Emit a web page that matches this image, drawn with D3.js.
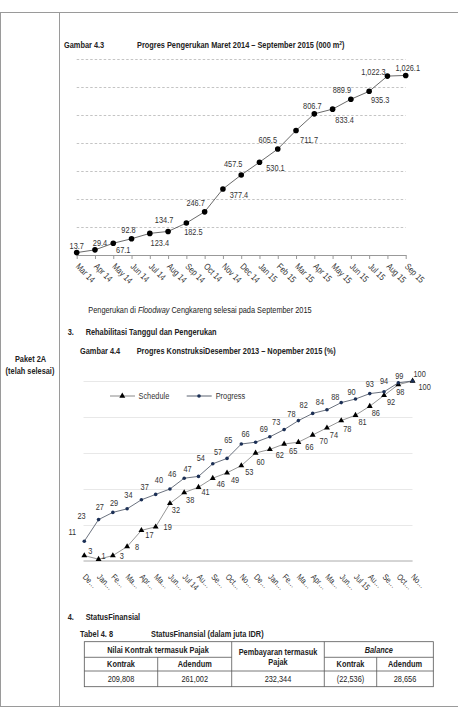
<!DOCTYPE html>
<html><head><meta charset="utf-8">
<script src="https://cdn.jsdelivr.net/npm/d3@7"></script>
<style>
body{margin:0;background:#fff}
svg{display:block;font-family:'Liberation Sans Narrow','Arial Narrow','Liberation Sans',Arial,sans-serif;fill:#222}
</style></head><body><svg id="c" width="458" height="723"></svg>
<script>
// ---------- DATA ----------
const months1 = ["Mar 14","Apr 14","May 14","Jun 14","Jul 14","Aug 14","Sep 14","Oct 14","Nov 14","Dec 14",
  "Jan 15","Feb 15","Mar 15","Apr 15","May 15","Jun 15","Jul 15","Aug 15","Sep 15"];
const dredged = [13.7,29.4,67.1,92.8,123.4,134.7,182.5,246.7,377.4,457.5,530.1,605.5,711.7,806.7,833.4,889.9,935.3,1022.3,1026.1];
const yTicks1 = [0,160,320,480,640,800,960,1120];

const months2 = ["De…","Jan…","Fe…","Ma…","Apr…","Ma…","Jun…","Jul 14","Au…","Se…","Oct…","No…",
  "De…","Jan…","Fe…","Ma…","Apr…","Ma…","Jun…","Jul 15","Au…","Se…","Oct…","No…"];
const schedule = [3,1,3,8,17,19,32,38,41,46,49,53,60,62,65,66,70,74,78,81,86,92,98,100];
const progress = [11,23,27,29,34,37,40,46,47,54,57,65,66,69,73,78,82,84,88,90,93,94,99,100];
const yTicks2 = [0,20,40,60,80,100];
const seriesNames = ["Schedule","Progress"];

const tableTop = ["Nilai Kontrak termasuk Pajak","Pembayaran termasuk|Pajak","Balance"];
const tableSub = ["Kontrak","Adendum","Kontrak","Adendum"];
const tableValues = ["209,808","261,002","232,344","(22,536)","28,656"];

// ---------- LAYOUT (label nudges, px) ----------
const lab1Dx = [0,5,10,-3,10,-4,7,-9,16,-8,16,-10,13,-2,12,-9,11,-14,2];
const lab1Dy = [-4,-4,10,-6,13,-8,12,-6,9,-8,9,-6,13,-5,14,-6,12,-1,-4];
const progDx = [-12,-17,-13,-13,-13,-11,-11,-12,-11,-12,-9,-13,-10,-6,-8,-7,-9,-7,-6,-4,0,0,1,7];
const progDy = [-6,-1,-2,-3,-2,-4,-6,-1,-4,-3,-3,-1,-5,-5,-5,-4,-5,-5,-3,-4,-7,-8,-4,-4];
const schDx = [6,5,9,10,8,12,6,6,7,8,8,8,5,10,9,11,11,7,6,7,6,7,2,12];
const schDy = [-2,0,3,3,8,3,10,10,8,9,10,9,12,9,10,8,9,10,11,10,10,10,10,9];

const svg = d3.select("#c");
const FS = 9;
const NARROW = 0.82;

// ---------- page frame ----------
const frame = svg.append("g").attr("stroke","#9a9a9a").attr("stroke-width",1);
frame.append("line").attr("x1",0).attr("x2",458).attr("y1",12.5).attr("y2",12.5);
frame.append("line").attr("x1",0).attr("x2",458).attr("y1",706.5).attr("y2",706.5);
frame.append("line").attr("x1",0.5).attr("x2",0.5).attr("y1",12.5).attr("y2",706.5);
frame.append("line").attr("x1",59.5).attr("x2",59.5).attr("y1",12.5).attr("y2",706.5);

function txt(x,y,s,opt={}) {
  const t = svg.append("text").attr("x",x).attr("y",y).attr("font-size",opt.size||FS)
    .attr("font-weight",opt.bold?"bold":"normal").attr("text-anchor",opt.anchor||"start").attr("fill","#222");
  if (opt.italic) t.attr("font-style","italic");
  t.text(s);
  return t;
}
txt(30.5,362,"Paket 2A",{bold:true,anchor:"middle"});
txt(30,374,"(telah selesai)",{bold:true,anchor:"middle"});

// ---------- chart 1 ----------
txt(64,48,"Gambar  4.3",{bold:true});
const t1 = txt(137,48,"Progres Pengerukan Maret 2014 – September 2015 (000 m",{bold:true});
t1.append("tspan").attr("font-size",6).attr("dy",-3).text("2");
t1.append("tspan").attr("dy",3).text(")");

const x1 = d3.scalePoint().domain(months1).range([76.7,405.7]);
const y1 = d3.scaleLinear().domain([0,1120]).range([255,59]);

const g1 = svg.append("g");
g1.append("g").attr("transform","translate(76.7,0)")
  .call(d3.axisLeft(y1).tickValues(yTicks1.filter(v=>v>0)).tickSize(-329).tickFormat(""))
  .call(g=>g.select(".domain").remove())
  .call(g=>g.selectAll("line").attr("stroke","#b5b5b5").attr("stroke-dasharray","2.5,2").attr("stroke-width",0.8));

const xa1 = g1.append("g").attr("transform","translate(0,255)")
  .call(d3.axisBottom(x1).tickSize(4).tickSizeOuter(0));
xa1.select(".domain").attr("stroke","#999");
xa1.selectAll(".tick line").attr("stroke","#999");
xa1.selectAll(".tick text").attr("font-size",FS).attr("fill","#333").attr("font-family",null)
  .attr("text-anchor","start").attr("x",0).attr("y",0).attr("dy",0)
  .attr("transform","translate(-2,12) rotate(45)");

g1.append("path").datum(dredged)
  .attr("fill","none").attr("stroke","#444").attr("stroke-width",0.8)
  .attr("d",d3.line().x((d,i)=>x1(months1[i])).y(d=>y1(d)));
g1.selectAll("circle.p1").data(dredged).join("circle")
  .attr("cx",(d,i)=>x1(months1[i])).attr("cy",d=>y1(d)).attr("r",2.8).attr("fill","#000");
const fmt1 = d3.format(",.1f");
g1.selectAll("text.l1").data(dredged).join("text").attr("class","l1")
  .attr("x",(d,i)=>x1(months1[i])+lab1Dx[i]).attr("y",(d,i)=>y1(d)+lab1Dy[i])
  .attr("text-anchor","middle").attr("font-size",FS).attr("fill","#333").text(d=>fmt1(d));

// caption
const cap = txt(88.3,313,"Pengerukan di ");
cap.append("tspan").attr("font-style","italic").text("Floodway");
cap.append("tspan").text(" Cengkareng selesai pada September 2015");

txt(67.7,335,"3.",{bold:true});
txt(85.7,335,"Rehabilitasi Tanggul dan Pengerukan",{bold:true});
txt(80,354,"Gambar 4.4",{bold:true});
txt(136.7,354,"Progres KonstruksiDesember 2013 – Nopember 2015 (%)",{bold:true});

// ---------- chart 2 ----------
const idx2 = months2.map((d,i)=>i);
const x2 = d3.scalePoint().domain(idx2).range([84.3,412.6]);
const y2 = d3.scaleLinear().domain([0,100]).range([561,381]);
const g2 = svg.append("g");
g2.append("g").attr("transform","translate(83.5,0)")
  .call(d3.axisLeft(y2).tickValues(yTicks2.filter(v=>v>0)).tickSize(-329).tickFormat(""))
  .call(g=>g.select(".domain").remove())
  .call(g=>g.selectAll("line").attr("stroke","#e2e2e2").attr("stroke-width",0.8));
const xa2 = g2.append("g").attr("transform","translate(0,561)")
  .call(d3.axisBottom(x2).tickSize(0).tickSizeOuter(0).tickFormat(i=>months2[i]));
xa2.select(".domain").attr("stroke","#aaa").attr("d","M83.5,0H412.6");
xa2.selectAll(".tick text").attr("font-size",8.5).attr("fill","#333").attr("font-family",null)
  .attr("text-anchor","start").attr("x",0).attr("y",0).attr("dy",0)
  .attr("transform","translate(-2.6,16.5) rotate(45)");

const line2 = d3.line().x((d,i)=>x2(i)).y(d=>y2(d));
g2.append("path").datum(schedule).attr("fill","none").attr("stroke","#8a8a8a").attr("stroke-width",0.9).attr("d",line2);
g2.append("path").datum(progress).attr("fill","none").attr("stroke","#5a6270").attr("stroke-width",0.9).attr("d",line2);
const tri = d3.symbol().type(d3.symbolTriangle).size(15);
g2.selectAll("path.st").data(schedule).join("path").attr("class","st")
  .attr("transform",(d,i)=>`translate(${x2(i)},${y2(d)})`).attr("d",tri).attr("fill","#000");
g2.selectAll("circle.pc").data(progress).join("circle").attr("class","pc")
  .attr("cx",(d,i)=>x2(i)).attr("cy",d=>y2(d)).attr("r",1.8).attr("fill","#1b2f55");
g2.selectAll("text.sl").data(schedule).join("text").attr("class","sl")
  .attr("x",(d,i)=>x2(i)+schDx[i]).attr("y",(d,i)=>y2(d)+schDy[i])
  .attr("text-anchor","middle").attr("font-size",FS).attr("fill","#333").text(d=>d);
g2.selectAll("text.pl").data(progress).join("text").attr("class","pl")
  .attr("x",(d,i)=>x2(i)+progDx[i]).attr("y",(d,i)=>y2(d)+progDy[i])
  .attr("text-anchor","middle").attr("font-size",FS).attr("fill","#333").text(d=>d);

// legend
const leg = g2.append("g");
leg.append("line").attr("x1",110).attr("x2",135).attr("y1",396).attr("y2",396).attr("stroke","#8a8a8a");
leg.append("path").attr("transform","translate(122.3,396)").attr("d",tri).attr("fill","#000");
txt(138.5,399.2,seriesNames[0]).attr("fill","#333");
leg.append("line").attr("x1",186.7).attr("x2",211.7).attr("y1",396).attr("y2",396).attr("stroke","#5a6270");
leg.append("circle").attr("cx",199).attr("cy",396).attr("r",1.8).attr("fill","#1b2f55");
txt(215.7,399.2,seriesNames[1]).attr("fill","#333");

// ---------- table ----------
txt(67.7,620,"4.",{bold:true});
txt(85.7,620,"StatusFinansial",{bold:true});
txt(80,637,"Tabel 4. 8",{bold:true});
txt(151,637,"StatusFinansial (dalam juta IDR)",{bold:true});

const cx = [84.3,157.7,231.7,324.3,376.7,433.3];
const ry = [641.7,657.3,671,686.7];
const tg = svg.append("g").attr("stroke","#555").attr("stroke-width",0.8);
tg.append("rect").attr("x",cx[0]).attr("y",ry[0]).attr("width",cx[5]-cx[0]).attr("height",ry[3]-ry[0]).attr("fill","none");
tg.append("line").attr("x1",cx[0]).attr("x2",cx[2]).attr("y1",ry[1]).attr("y2",ry[1]);
tg.append("line").attr("x1",cx[3]).attr("x2",cx[5]).attr("y1",ry[1]).attr("y2",ry[1]);
tg.append("line").attr("x1",cx[0]).attr("x2",cx[5]).attr("y1",ry[2]).attr("y2",ry[2]);
[2,3].forEach(k=>tg.append("line").attr("x1",cx[k]).attr("x2",cx[k]).attr("y1",ry[0]).attr("y2",ry[3]));
[1,4].forEach(k=>tg.append("line").attr("x1",cx[k]).attr("x2",cx[k]).attr("y1",ry[1]).attr("y2",ry[3]));

txt((cx[0]+cx[2])/2,652.5,tableTop[0],{bold:true,anchor:"middle"});
const pb = tableTop[1].split("|");
txt((cx[2]+cx[3])/2,655,pb[0],{bold:true,anchor:"middle"});
txt((cx[2]+cx[3])/2,665,pb[1],{bold:true,anchor:"middle"});
txt((cx[3]+cx[5])/2,652.5,tableTop[2],{bold:true,italic:true,anchor:"middle"});
const subCols = [[0,1],[1,2],[3,4],[4,5]];
tableSub.forEach((s,i)=>txt((cx[subCols[i][0]]+cx[subCols[i][1]])/2,667.3,s,{bold:true,anchor:"middle"}));
const valCols = [[0,1],[1,2],[2,3],[3,4],[4,5]];
tableValues.forEach((s,i)=>txt((cx[valCols[i][0]]+cx[valCols[i][1]])/2,682.3,s,{anchor:"middle"}));

// ---------- condense all text horizontally (Arial Narrow look) ----------
svg.selectAll("text").each(function(){
  const t = d3.select(this);
  const x = +t.attr("x") || 0, y = +t.attr("y") || 0;
  const tr = t.attr("transform") || "";
  t.attr("x",0).attr("y",0).attr("transform", `${tr} translate(${x},${y}) scale(${NARROW},1)`);
});
</script></body></html>
